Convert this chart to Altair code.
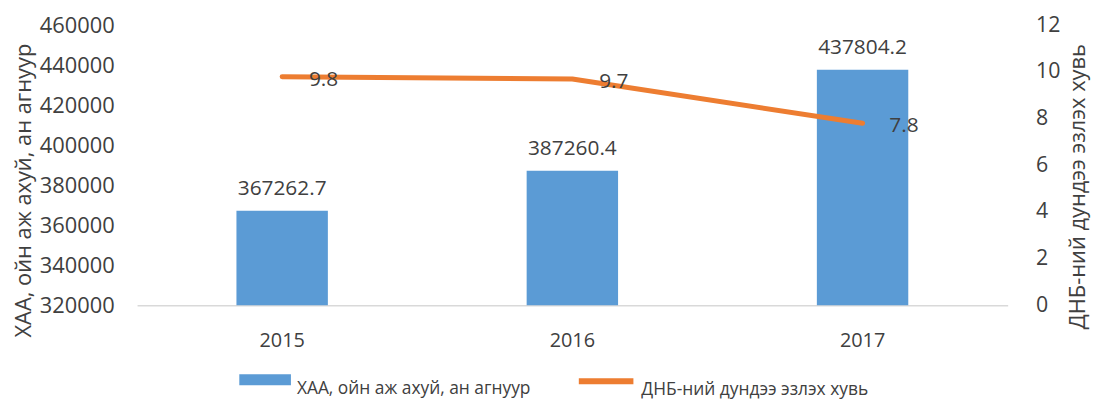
import altair as alt
import pandas as pd

years = ["2015", "2016", "2017"]
agri_values = [367262.7, 387260.4, 437804.2]
gdp_share = [9.8, 9.7, 7.8]
bar_name = "ХАА, ойн аж ахуй, ан агнуур"
line_name = "ДНБ-ний  дундээ эзлэх  хувь"
left_title = "ХАА, ойн аж ахуй, ан агнуур"
right_title = "ДНБ-ний дундээ эзлэх хувь"
left_ticks = [320000, 340000, 360000, 380000, 400000, 420000, 440000, 460000]
right_ticks = [0, 2, 4, 6, 8, 10, 12]

BLUE = "#5B9BD5"
ORANGE = "#ED7D31"
TXT = "#404040"
FONT = "Open Sans"

df = pd.DataFrame({
    "year": years,
    "value": agri_values,
    "share": gdp_share,
    "bar_series": [bar_name] * 3,
    "line_series": [line_name] * 3,
})
df["value_label"] = [f"{v:.1f}" for v in agri_values]
df["share_label"] = [f"{v:.1f}" for v in gdp_share]

base = alt.Chart(df)

x_enc = alt.X(
    "year:N",
    title=None,
    scale=alt.Scale(paddingInner=0.685, paddingOuter=0.3425),
    axis=alt.Axis(labelAngle=0, labelFontSize=20, labelColor=TXT, labelFont=FONT,
                  labelPadding=26, ticks=False, domainColor="#D9D9D9", domainWidth=1.5,
                  grid=False),
)

y_left = alt.Y(
    "value:Q",
    scale=alt.Scale(domain=[320000, 460000], zero=False, nice=False),
    axis=alt.Axis(values=left_ticks, format="d", labelFontSize=22, labelColor=TXT,
                  labelFont=FONT, labelPadding=23, ticks=False, domain=False, grid=False,
                  title=left_title, titleFontSize=22, titleFontWeight="normal",
                  titleColor=TXT, titleFont=FONT, titleX=-114, titleY=166,
                  titleAngle=270, titleBaseline="middle", titleAlign="center"),
)

bars = base.mark_bar(clip=True).encode(
    x=x_enc,
    y=y_left,
    fill=alt.Fill(
        "bar_series:N",
        scale=alt.Scale(range=[BLUE]),
        legend=alt.Legend(title=None, orient="none", legendX=103, legendY=331,
                          symbolType="M-1,-0.21H1V0.21H-1Z", symbolSize=2704,
                          symbolStrokeWidth=0, labelFontSize=17.5, labelColor=TXT,
                          labelFont=FONT, labelOffset=6, padding=0,
                          labelBaseline="top", labelLimit=400),
    ),
)

bar_text = base.mark_text(fontSize=21, font=FONT, color=TXT, baseline="alphabetic",
                          dy=-16).encode(
    x="year:N",
    y="value:Q",
    text="value_label:N",
)

y_right = alt.Y(
    "share:Q",
    scale=alt.Scale(domain=[0, 12], nice=False),
    axis=alt.Axis(orient="right", values=right_ticks, labelFontSize=21.5, labelColor=TXT,
                  labelFont=FONT, labelPadding=28, ticks=False, domain=False, grid=False,
                  title=right_title, titleFontSize=22, titleFontWeight="normal",
                  titleColor=TXT, titleFont=FONT, titleX=70, titleY=162,
                  titleAngle=270, titleBaseline="middle", titleAlign="center"),
)

line = base.mark_line(strokeWidth=5, strokeCap="round", strokeJoin="round").encode(
    x="year:N",
    y=y_right,
    stroke=alt.Stroke(
        "line_series:N",
        scale=alt.Scale(range=[ORANGE]),
        legend=alt.Legend(title=None, orient="none", legendX=442, legendY=328,
                          symbolType="stroke", symbolSize=3025, symbolStrokeWidth=6,
                          labelFontSize=17.5, labelColor=TXT, labelFont=FONT,
                          labelOffset=5, padding=0, labelBaseline="top",
                          labelLimit=400),
    ),
)

line_text = base.mark_text(fontSize=21, font=FONT, color=TXT, align="left",
                           baseline="middle", dx=27, dy=3).encode(
    x="year:N",
    y="share:Q",
    text="share_label:N",
)

left = alt.layer(bars, bar_text)
right = alt.layer(line, line_text)

chart = alt.layer(left, right).resolve_scale(y="independent").properties(
    width=877,
    height=282,
    autosize=alt.AutoSizeParams(type="none"),
    padding={"left": 130, "top": 16, "right": 92, "bottom": 97},
).configure_view(stroke=None)

chart.save("out.html", embed_options={"renderer": "svg", "actions": False})
